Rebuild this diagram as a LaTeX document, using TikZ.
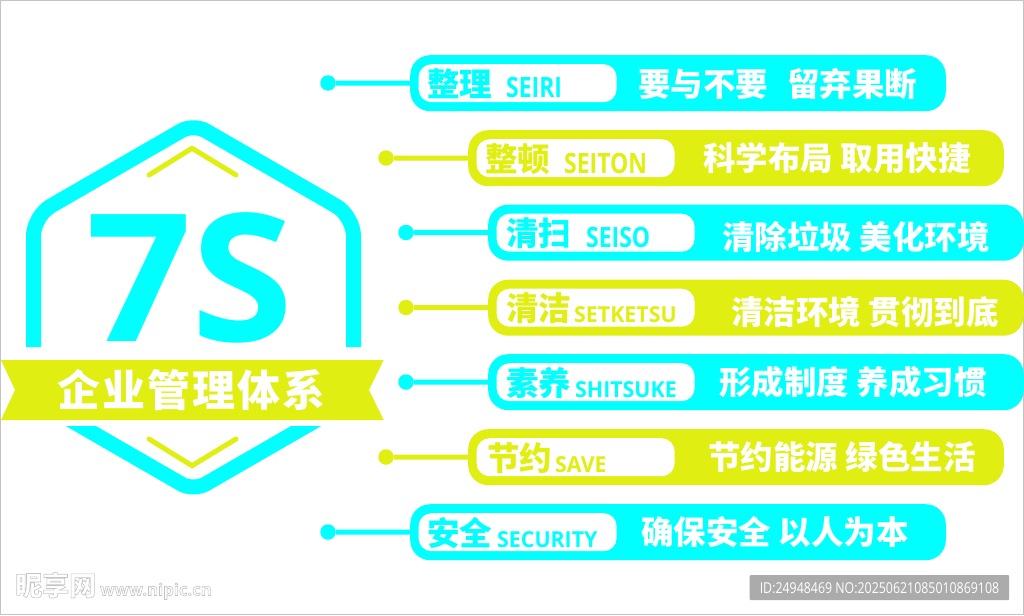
\documentclass[tikz,border=0pt]{standalone}
\usepackage{fontspec}
\setmainfont{Open Sans}
\newfontfamily\cjkfont{Noto Sans CJK SC}
\newfontfamily\cjkwide{Noto Sans CJK SC}[LetterSpace=5]
\newfontfamily\titlefont{Open Sans}[FakeStretch=1.04]
\newfontfamily\enfont{Open Sans}[FakeStretch=0.82]
\newfontfamily\ensmallfont{Open Sans}[FakeStretch=0.97]
\newfontfamily\idfont{Open Sans}[FakeStretch=0.825]
\newcommand{\enbig}{\enfont\bfseries\fontsize{28}{28}\selectfont}
\newcommand{\ensmall}{\ensmallfont\bfseries\fontsize{22}{22}\selectfont}
\newcommand{\outlined}[1]{\special{pdf:code 1 Tr 0.6 w}#1\special{pdf:code 0 Tr}}
\definecolor{sevencyan}{HTML}{00FFFF}
\definecolor{sevenlime}{HTML}{E1EE11}
\definecolor{framegray}{HTML}{C4C4C4}
\definecolor{idgray}{HTML}{ABABAB}
\tikzset{
  label/.style={anchor=base west, inner sep=0pt},
  cjklabel/.style={label, font=\cjkfont\bfseries\fontsize{32.5}{32.5}\selectfont},
  barbox/.style={rectangle, rounded corners=20pt, anchor=north west, inner sep=0pt,
    minimum width=535.6pt, minimum height=56pt},
  tagbox/.style={rectangle, rounded corners=13pt, anchor=north west, inner sep=0pt,
    fill=white, minimum width=198pt, minimum height=38pt},
  dotmark/.style={circle, inner sep=0pt, minimum size=15.5pt}
}
\begin{document}
\begin{tikzpicture}[x=1pt,y=-1pt]
    \useasboundingbox (0,0) rectangle (1024,615);
    \draw[framegray] (0.5,0.5) rectangle (1023.5,614.5);

    % hexagon
    \draw[sevencyan, line width=15pt, rounded corners=20pt]
        (33.5,347)--(33.5,216)[rounded corners=14pt]--(193.5,123.7)[rounded corners=20pt]--(353.5,216)--(353.5,347);
    \begin{scope}
        \clip (0,426) rectangle (400,520);
        \draw[sevencyan, line width=15pt, rounded corners=14pt]
            (60,414)--(193.5,491)--(327,414);
    \end{scope}
    \draw[sevenlime, line width=5pt, line cap=round] (149,175)--(192,148.3)--(236,175);
    \draw[sevenlime, line width=5pt, line cap=round] (149,439)--(192,465.7)--(236,439);
    \node[font=\titlefont\bfseries\fontsize{178}{178}\selectfont, text=sevencyan, anchor=base, inner sep=0pt]
        (title) at (190,341) {7S};

    % ribbon
    \fill[sevenlime] (1,360)--(383.7,360)--(369,390)--(383.7,420)--(1,420)--(15,390)--cycle;
    \node[label, font=\cjkwide\bfseries\fontsize{43}{43}\selectfont, text=white]
        (subtitle) at (57,406) {企业管理体系};

    % rows
    \foreach \i/\x/\y/\c/\cx/\cn/\ex/\en/\mx/\my/\main in {
        1/410/55/sevencyan/427/整理/506/{\enbig SEIRI}/638/41/{要与不要\hspace{19pt}留弃果断},
        2/468/130/sevenlime/485/整顿/564/{\enbig SEITON}/703/40/{科学布局 取用快捷},
        3/488/204.5/sevencyan/506/清扫/586/{\enbig SEISO}/722/45/{清除垃圾 美化环境},
        4/488/279.5/sevenlime/506/清洁/574/{\ensmall SETKETSU}/731/45/{清洁环境 贯彻到底},
        5/488/354/sevencyan/506/素养/575/{\ensmall SHITSUKE}/719/40/{形成制度 养成习惯},
        6/468/429/sevenlime/487/节约/555/{\ensmall SAVE}/708/40/{节约能源 绿色生活},
        7/410/504/sevencyan/427/安全/497/{\ensmall SECURITY}/641/40/{确保安全 以人为本}} {
        \node[barbox, fill=\c] (bar\i) at (\x,\y) {};
        \node[tagbox] (tag\i) at (\x+8.4,\y+9) {};
        \node[dotmark, fill=\c] (dot\i) at (\x-82,\y+28) {};
        \draw[\c, line width=5pt] (dot\i)--(bar\i);
        \node[cjklabel, text=\c] (cn\i) at (\cx,\y+41) {\cn};
        \node[label, text=\c] (en\i) at (\ex,\y+43) {\en};
        \node[cjklabel, text=white] (main\i) at (\mx,\y+\my) {\main};
    }

    % marks
    \node[fill=idgray, rectangle, rounded corners=1pt, anchor=north west, inner sep=0pt,
        minimum width=259.5pt, minimum height=25pt, text=white,
        font=\idfont\fontsize{15}{15}\selectfont] (idbox) at (749.5,575)
        {ID:24948469 NO:20250621085010869108};
    \node[label, font=\cjkfont\bfseries\fontsize{27}{27}\selectfont, text=framegray] (markcn) at (15,595.5) {\outlined{昵享网}};
    \node[label, font=\bfseries\fontsize{16.7}{16.7}\selectfont, text=framegray] (markurl) at (100,595.5) {\outlined{www.nipic.cn}};
\end{tikzpicture}
\end{document}
